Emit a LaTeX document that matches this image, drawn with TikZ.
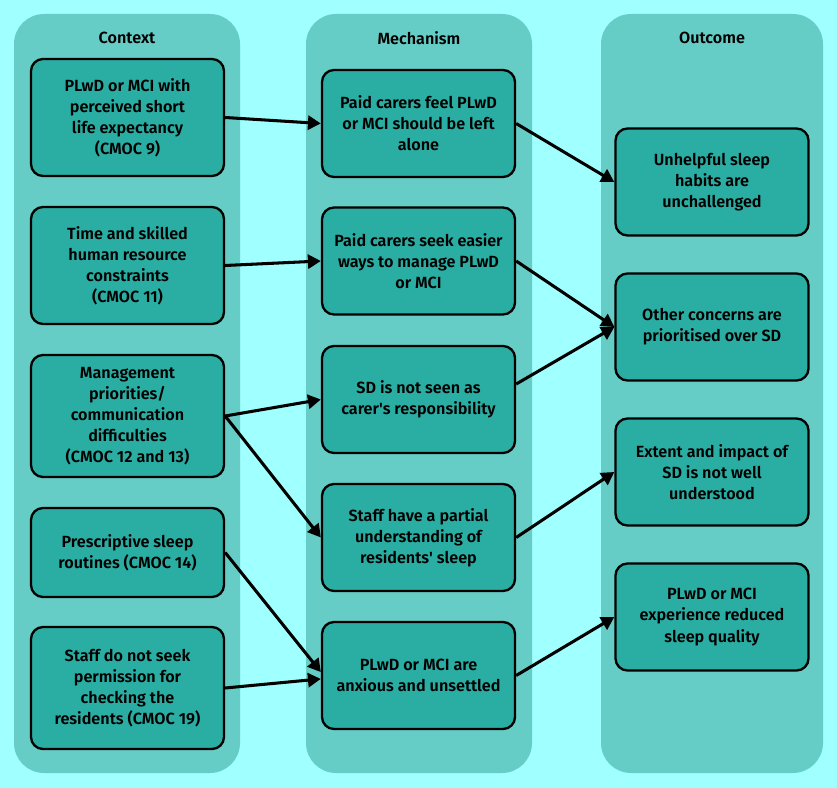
\documentclass[tikz,border=0pt]{standalone}
\usepackage{fontspec}
\setmainfont{Fira Sans}[UprightFont=* SemiBold]
\usetikzlibrary{arrows.meta}
\definecolor{bgcyan}{RGB}{160,255,255}
\definecolor{colteal}{RGB}{102,205,198}
\definecolor{boxteal}{RGB}{42,173,162}

\begin{document}
\begin{tikzpicture}[x=0.03cm,y=-0.03cm,
  box/.style={rectangle,draw,line width=2pt,rounded corners=0.36cm,fill=boxteal,minimum width=5.79cm,minimum height=3.21cm,align=center,inner sep=1mm,font=\fontsize{13.8}{18}\selectfont},
  head/.style={font=\fontsize{13.8}{18}\selectfont},
  arr/.style={-{Triangle[length=11pt,width=12pt]},line width=2.6pt}]
\fill[bgcyan] (0,0) rectangle (837,788);
\fill[colteal,rounded corners=0.9cm] (14,14) rectangle (240,773);
\fill[colteal,rounded corners=0.9cm] (306,14) rectangle (532,773);
\fill[colteal,rounded corners=0.9cm] (601,14) rectangle (823,773);
\node[head] (hctx) at (127,38) {Context};
\node[head] (hmech) at (419,38) {Mechanism};
\node[head] (hout) at (712,38) {Outcome};
\node[box,minimum height=3.51cm] (c1) at (127.5,117.5) {PLwD or MCI with\\perceived short\\life expectancy\\(CMOC 9)};
\node[box,minimum height=3.51cm] (c2) at (127.5,265.5) {Time and skilled\\human resource\\constraints\\(CMOC 11)};
\node[box,minimum height=3.66cm] (c3) at (127.5,416) {Management\\priorities/\\communication\\difficulties\\(CMOC 12 and 13)};
\node[box,minimum height=2.67cm] (c4) at (127.5,552.5) {Prescriptive sleep\\routines (CMOC 14)};
\node[box,minimum height=3.66cm] (c5) at (127.5,688) {Staff do not seek\\permission for\\checking the\\residents (CMOC 19)};
\node[box] (m1) at (418.5,123.5) {Paid carers feel PLwD\\or MCI should be left\\alone};
\node[box] (m2) at (418.5,261) {Paid carers seek easier\\ways to manage PLwD\\or MCI};
\node[box] (m3) at (418.5,399.5) {SD is not seen as\\carer\textquotesingle s responsibility};
\node[box] (m4) at (418.5,537.5) {Staff have a partial\\understanding of\\residents\textquotesingle\ sleep};
\node[box] (m5) at (418.5,675.5) {PLwD or MCI are\\anxious and unsettled};
\node[box] (o1) at (712,182) {Unhelpful sleep\\habits are\\unchallenged};
\node[box] (o2) at (712,327) {Other concerns are\\prioritised over SD};
\node[box] (o3) at (712,472) {Extent and impact of\\SD is not well\\understood};
\node[box] (o4) at (712,617) {PLwD or MCI\\experience reduced\\sleep quality};
\path (c1.east) edge[arr] (m1.west);
\path (c2.east) edge[arr] (m2.west);
\path (c3.east) edge[arr] (m3.west);
\path (c3.east) edge[arr] (m4.west);
\path (c4.east) edge[arr] (m5.178);
\path (c5.east) edge[arr] (m5.182);
\path (m1.east) edge[arr] (o1.west);
\path (m2.east) edge[arr] (o2.west);
\path (m3.9) edge[arr] (o2.west);
\path (m4.east) edge[arr] (o3.west);
\path (m5.east) edge[arr] (o4.west);
\end{tikzpicture}
\end{document}
